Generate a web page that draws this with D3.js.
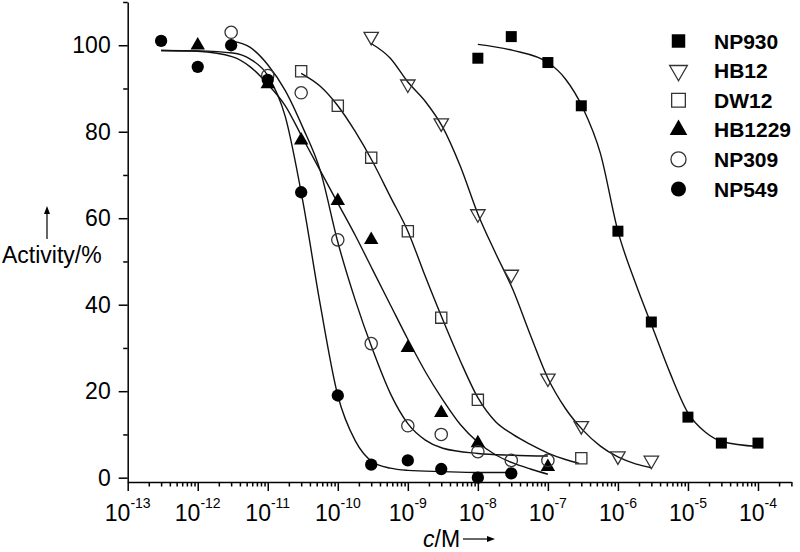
<!DOCTYPE html>
<html>
<head>
<meta charset="utf-8">
<script src="https://cdn.jsdelivr.net/npm/d3@7"></script>
<style>
  body { margin: 0; background: #fff; }
  svg { font-family: "Liberation Sans", Arial, sans-serif; }
</style>
</head>
<body>
<div id="chart"></div>
<script>
// Measured activity (%) vs concentration (M)
var np930Conc = [1e-8, 3e-8, 1e-7, 3e-7, 1e-6, 3e-6, 1e-5, 3e-5, 1e-4];
var np930Act = [97, 102, 96, 86, 57, 36, 14, 8, 8];

var hb12Conc = [3e-10, 1e-9, 3e-9, 1e-8, 3e-8, 1e-7, 3e-7, 1e-6, 3e-6];
var hb12Act = [102, 91, 82, 61, 47, 23, 12, 5, 4];

var dw12Conc = [3e-11, 1e-10, 3e-10, 1e-9, 3e-9, 1e-8, 3e-7];
var dw12Act = [94, 86, 74, 57, 37, 18, 4.5];

var hb1229Conc = [1e-12, 1e-11, 3e-11, 1e-10, 3e-10, 1e-9, 3e-9, 1e-8, 1e-7];
var hb1229Act = [100, 91, 78, 64, 55, 30, 15, 8, 2.5];

var np309Conc = [3e-12, 1e-11, 3e-11, 1e-10, 3e-10, 1e-9, 3e-9, 1e-8, 3e-8, 1e-7];
var np309Act = [103, 93, 89, 55, 31, 12, 10, 6, 4, 4];

var np549Conc = [3e-13, 1e-12, 3e-12, 1e-11, 3e-11, 1e-10, 3e-10, 1e-9, 3e-9, 1e-8, 3e-8];
var np549Act = [101, 95, 100, 92, 66, 19, 3, 4, 2, 0, 1];

// Fitted curves
var np930FitConc = [1e-8, 3.16e-8, 1e-7, 1.78e-7, 3.16e-7, 5.62e-7, 1e-6, 1.78e-6, 3.16e-6, 5.62e-6, 1e-5, 1.78e-5, 3.16e-5, 1e-4];
var np930FitAct = [100.2, 98.8, 96, 92.2, 85.5, 75, 57, 45, 34.5, 24, 15, 10.5, 8.3, 7.2];

var hb12FitConc = [3e-10, 5.62e-10, 1e-9, 1.78e-9, 3.16e-9, 5.62e-9, 1e-8, 1.78e-8, 3.16e-8, 5.62e-8, 1e-7, 1.78e-7, 3.16e-7, 5.62e-7, 1e-6, 1.78e-6, 3e-6];
var hb12FitAct = [100.4, 97, 91.5, 87, 81, 72, 61, 52, 43.5, 33, 23, 16, 11, 7.3, 4.8, 3.2, 2.3];

var dw12FitConc = [3e-11, 5.62e-11, 1e-10, 1.78e-10, 3.16e-10, 5.62e-10, 1e-9, 1.78e-9, 3.16e-9, 5.62e-9, 1e-8, 1.78e-8, 3.16e-8, 5.62e-8, 1e-7, 1.78e-7, 2.8e-7];
var dw12FitAct = [93.5, 90.5, 86, 80, 73, 65, 57, 46.5, 36.5, 27, 18.5, 13, 10, 7.7, 5.7, 4.2, 3.3];

var hb1229FitConc = [3e-13, 1e-12, 3.16e-12, 5.62e-12, 1e-11, 1.78e-11, 3.16e-11, 5.62e-11, 1e-10, 1.78e-10, 3.16e-10, 5.62e-10, 1e-9, 1.78e-9, 3.16e-9, 5.62e-9, 1e-8, 1.78e-8, 3.16e-8, 5.62e-8, 1e-7];
var hb1229FitAct = [98.8, 98.6, 97.3, 95, 91, 86, 78.5, 71, 63.5, 56, 48, 40, 32, 24.5, 18, 12.3, 8.2, 5.3, 3.4, 2, 0.8];

var np309FitConc = [3e-12, 5.62e-12, 1e-11, 1.78e-11, 3.16e-11, 5.62e-11, 1e-10, 1.78e-10, 3.16e-10, 5.62e-10, 1e-9, 1.78e-9, 3.16e-9, 1e-8, 3.16e-8, 1e-7];
var np309FitAct = [101, 99.5, 95.5, 89.5, 81, 71, 54.5, 41, 29.5, 19.5, 12.5, 8.7, 6.8, 5.6, 5.2, 5.0];

var np549FitConc = [3e-13, 1e-12, 3.16e-12, 5.62e-12, 1e-11, 1.78e-11, 3.16e-11, 5.62e-11, 1e-10, 1.78e-10, 3.16e-10, 5.62e-10, 1e-9, 3.16e-9, 1e-8, 3e-8];
var np549FitAct = [98.8, 98.7, 98.2, 96.8, 93, 83.5, 64, 40, 19, 8.5, 3.6, 2.2, 1.7, 1.4, 1.2, 1.2];

// Axis ticks
var yTicks = [0, 20, 40, 60, 80, 100];
var yMinorTicks = [10, 30, 50, 70, 90, 110];
var xExponents = [-13, -12, -11, -10, -9, -8, -7, -6, -5, -4];

var width = 800, height = 552;

var svg = d3.select("#chart")
  .append("svg")
  .attr("width", width)
  .attr("height", height);

var x = d3.scaleLog()
  .domain([1e-13, 3e-4])
  .range([127.7, 791.4]);

var y = d3.scaleLinear()
  .domain([-1, 110])
  .range([482, 2]);

// Y axis
var yAxis = svg.append("g")
  .attr("transform", "translate(" + x.range()[0] + ",0)")
  .call(d3.axisLeft(y).tickValues(yTicks).tickSize(9).tickSizeOuter(0).tickPadding(8));
yAxis.selectAll("text").style("font-size", "23px").attr("fill", "#000");

svg.append("g")
  .attr("transform", "translate(" + x.range()[0] + ",0)")
  .call(d3.axisLeft(y).tickValues(yMinorTicks).tickSize(4.5).tickFormat(""))
  .select(".domain").remove();

// X axis, log scale with minor ticks
var xMajor = xExponents.map(function(e) { return Math.pow(10, e); });
var xMinor = [];
xExponents.forEach(function(e) {
  for (var k = 2; k <= 9; k++) {
    var v = k * Math.pow(10, e);
    if (v <= x.domain()[1] * 1.0001) xMinor.push(v);
  }
});

svg.append("g")
  .attr("transform", "translate(0," + y.range()[0] + ")")
  .call(d3.axisBottom(x).tickValues(xMajor).tickSize(9).tickSizeOuter(0).tickFormat(""));

svg.append("g")
  .attr("transform", "translate(0," + y.range()[0] + ")")
  .call(d3.axisBottom(x).tickValues(xMinor).tickSize(4.5).tickFormat(""))
  .select(".domain").remove();

svg.selectAll(".domain, .tick line").attr("stroke", "#000").attr("stroke-width", 1.5);

var xLabels = svg.append("g")
  .selectAll("text")
  .data(xExponents)
  .enter()
  .append("text")
  .attr("x", function(d) { return x(Math.pow(10, d)); })
  .attr("y", 521)
  .attr("text-anchor", "middle")
  .style("font-size", "23px");
xLabels.append("tspan").text("10");
xLabels.append("tspan")
  .attr("dy", -13)
  .style("font-size", "14px")
  .text(function(d) { return "-" + Math.abs(d); });

// Axis titles with arrows
svg.append("text")
  .attr("x", 2)
  .attr("y", 263)
  .style("font-size", "23px")
  .text("Activity/%");
svg.append("line")
  .attr("x1", 47).attr("x2", 47)
  .attr("y1", 239).attr("y2", 212)
  .attr("stroke", "#000").attr("stroke-width", 1.2);
svg.append("path")
  .attr("d", "M47,206 L44,214 L50,214 Z")
  .attr("fill", "#000");

var xTitle = svg.append("text")
  .attr("x", 423)
  .attr("y", 547)
  .style("font-size", "23px");
xTitle.append("tspan").style("font-style", "italic").text("c");
xTitle.append("tspan").text("/M");
svg.append("line")
  .attr("x1", 463).attr("x2", 489)
  .attr("y1", 539).attr("y2", 539)
  .attr("stroke", "#000").attr("stroke-width", 1.2);
svg.append("path")
  .attr("d", "M495,539 L487,536 L487,542 Z")
  .attr("fill", "#000");

// Series
var series = [
  {name: "NP930", conc: np930Conc, act: np930Act, fitConc: np930FitConc, fitAct: np930FitAct, shape: d3.symbolSquare, size: 121, filled: true, rot: 0},
  {name: "HB12", conc: hb12Conc, act: hb12Act, fitConc: hb12FitConc, fitAct: hb12FitAct, shape: d3.symbolTriangle, size: 90, filled: false, rot: 180},
  {name: "DW12", conc: dw12Conc, act: dw12Act, fitConc: dw12FitConc, fitAct: dw12FitAct, shape: d3.symbolSquare, size: 125, filled: false, rot: 0},
  {name: "HB1229", conc: hb1229Conc, act: hb1229Act, fitConc: hb1229FitConc, fitAct: hb1229FitAct, shape: d3.symbolTriangle, size: 90, filled: true, rot: 0},
  {name: "NP309", conc: np309Conc, act: np309Act, fitConc: np309FitConc, fitAct: np309FitAct, shape: d3.symbolCircle, size: 119, filled: false, rot: 0},
  {name: "NP549", conc: np549Conc, act: np549Act, fitConc: np549FitConc, fitAct: np549FitAct, shape: d3.symbolCircle, size: 119, filled: true, rot: 0}
];

var line = d3.line()
  .x(function(d) { return x(d[0]); })
  .y(function(d) { return y(d[1]); })
  .curve(d3.curveMonotoneX);

svg.append("g")
  .selectAll("path")
  .data(series)
  .enter()
  .append("path")
  .attr("d", function(s) { return line(d3.zip(s.fitConc, s.fitAct)); })
  .attr("fill", "none")
  .attr("stroke", "#111")
  .attr("stroke-width", 1.4);

function styleMarker(sel, s) {
  sel.attr("fill", s.filled ? "#000" : "none")
    .attr("stroke", s.filled ? "none" : "#333")
    .attr("stroke-width", 1.3);
}

series.forEach(function(s) {
  var pts = d3.zip(s.conc, s.act);
  svg.append("g")
    .selectAll("path")
    .data(pts)
    .enter()
    .append("path")
    .attr("d", d3.symbol().type(s.shape).size(s.size))
    .attr("transform", function(d) {
      return "translate(" + x(d[0]) + "," + y(d[1]) + ") rotate(" + s.rot + ")";
    })
    .call(styleMarker, s);
});

// Legend
var legend = svg.append("g")
  .selectAll("g")
  .data(series)
  .enter()
  .append("g")
  .attr("transform", function(d, i) { return "translate(678.5," + (41 + i * 29.6) + ")"; });

legend.append("path")
  .attr("d", function(s) { return d3.symbol().type(s.shape).size(s.size * 1.5)(); })
  .attr("transform", function(s) { return "rotate(" + s.rot + ")"; })
  .each(function(s) { styleMarker(d3.select(this), s); });

legend.append("text")
  .attr("x", 35.5)
  .attr("y", 7.5)
  .style("font-size", "21px")
  .style("font-weight", "bold")
  .text(function(s) { return s.name; });
</script>
</body>
</html>
